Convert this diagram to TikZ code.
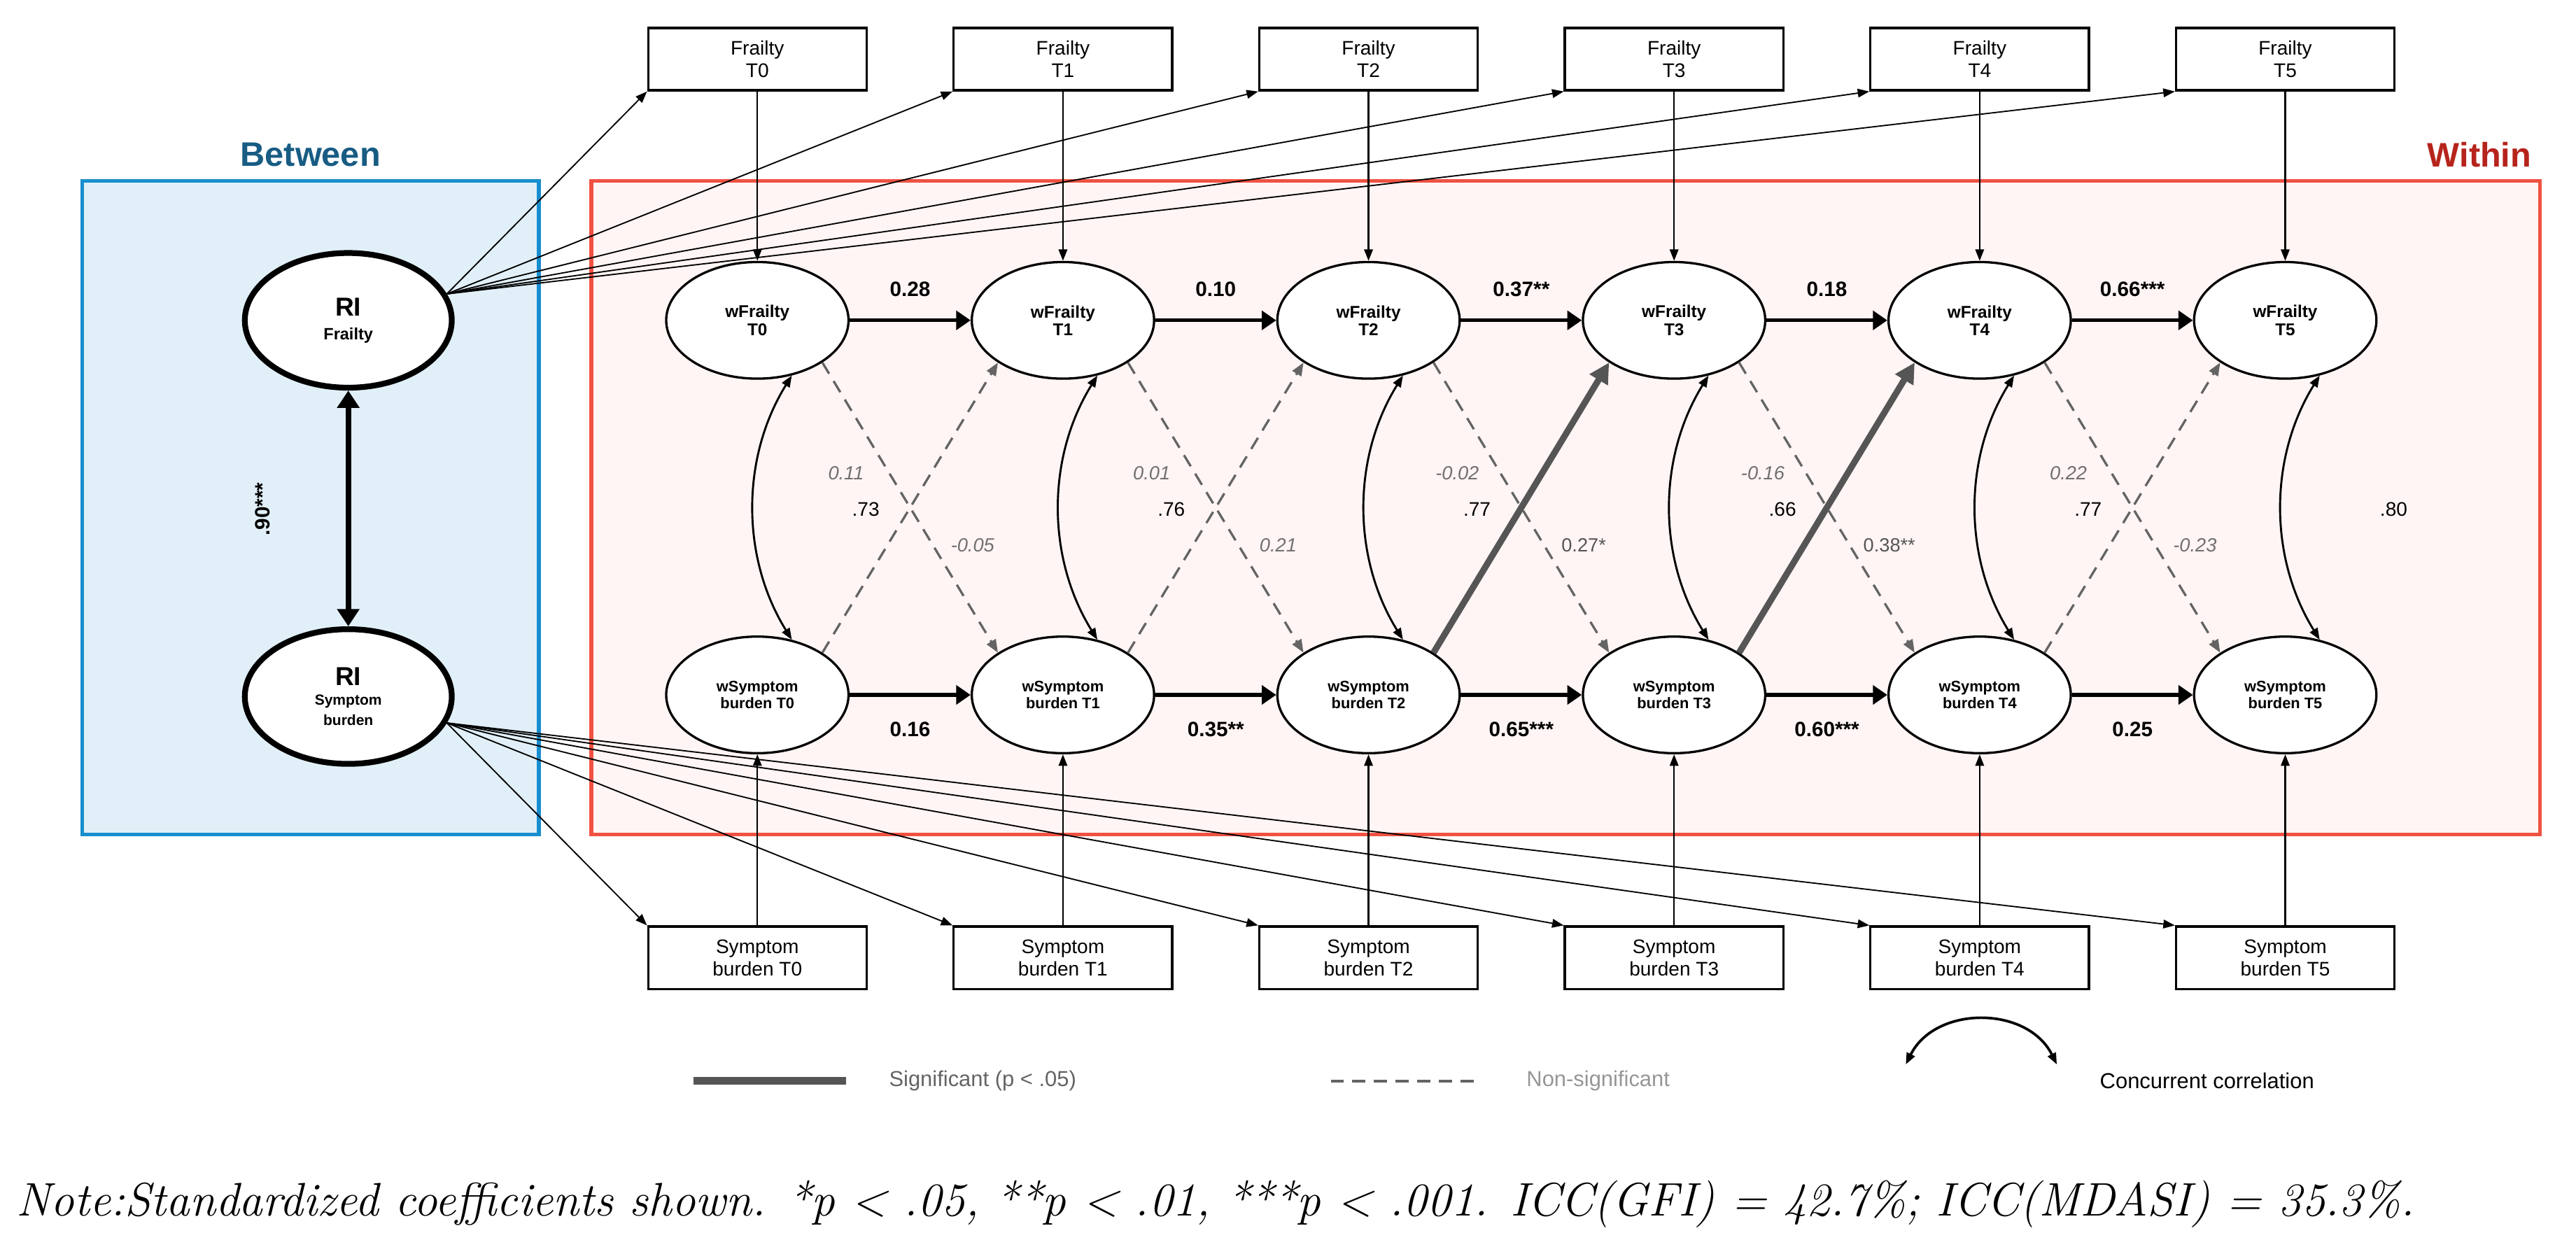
\documentclass[tikz,border=0pt]{standalone}
\usepackage{fontspec}
\newfontfamily\arialsans{Liberation Sans}
\usetikzlibrary{shapes.geometric,arrows.meta}

\definecolor{betweenfill}{RGB}{225,240,248}
\definecolor{betweenline}{RGB}{24,142,206}
\definecolor{betweentext}{RGB}{24,92,132}
\definecolor{withinfill}{RGB}{255,245,244}
\definecolor{withinline}{RGB}{240,82,66}
\definecolor{withintext}{RGB}{182,36,28}
\definecolor{sigline}{RGB}{85,85,85}
\definecolor{nsline}{RGB}{100,100,100}
\definecolor{nstext}{RGB}{112,112,112}
\definecolor{sigtext}{RGB}{100,100,100}
\definecolor{nslegend}{RGB}{150,150,150}

\tikzset{
  obsbox/.style={draw, fill=white, line width=0.8pt, minimum width=2.66cm, minimum height=0.76cm,
    inner sep=0pt, align=center, font=\arialsans\fontsize{6.8}{7.9}\selectfont},
  latent/.style={draw, ellipse, fill=white, line width=0.8pt, minimum width=2.22cm, minimum height=1.42cm,
    inner sep=0pt, align=center, font=\arialsans\bfseries\fontsize{5.9}{6.1}\selectfont},
  rilatent/.style={draw, ellipse, fill=white, line width=2pt, minimum width=2.52cm, minimum height=1.64cm,
    inner sep=0pt, align=center, font=\arialsans\bfseries\fontsize{5.7}{7.2}\selectfont},
  paneltitle/.style={font=\arialsans\bfseries\fontsize{11.8}{14}\selectfont},
  thinarrow/.style={line width=0.6pt, -{Triangle[length=4pt,width=3pt]}},
  fanarrow/.style={line width=0.45pt, -{Triangle[length=4pt,width=3pt]}},
  autoarrow/.style={line width=1.3pt, -{Triangle[length=5pt,width=6.5pt]}},
  sigarrow/.style={line width=2.2pt, sigline, -{Triangle[length=7pt,width=7pt]}},
  nsarrow/.style={line width=0.8pt, nsline, dash pattern=on 4.5pt off 3pt, -{Triangle[length=4.5pt,width=3.5pt]}},
  corrarrow/.style={line width=0.7pt, {Triangle[length=4pt,width=3pt]}-{Triangle[length=4pt,width=3pt]}},
  coef/.style={font=\arialsans\bfseries\fontsize{7.2}{8.5}\selectfont},
  corrlab/.style={font=\arialsans\fontsize{6.8}{8}\selectfont},
  nslab/.style={text=nstext, font=\arialsans\itshape\fontsize{6.6}{8}\selectfont},
  siglab/.style={text=sigline, font=\arialsans\fontsize{6.6}{8}\selectfont},
  legendlab/.style={anchor=west, font=\arialsans\fontsize{7.5}{9}\selectfont}
}

\begin{document}
\begin{tikzpicture}[x=0.02cm, y=-0.02cm]
  \useasboundingbox (0,0) rectangle (1568,763);

  % Between and Within panels
  \draw[betweenline, fill=betweenfill, line width=1.3pt] (50,110) rectangle (328,508);
  \draw[withinline, fill=withinfill, line width=1.3pt] (360,110) rectangle (1546,508);
  \node[paneltitle, text=betweentext] (betweentitle) at (189,94) {Between};
  \node[paneltitle, text=withintext, anchor=east] (withintitle) at (1547,94) {Within};

  % Random intercepts
  \node[rilatent] (rif) at (212,195) {{\fontsize{9}{10}\selectfont RI}\\[1pt]Frailty};
  \node[rilatent] (ris) at (212,424) {{\fontsize{9}{10}\selectfont RI}\\[-0.5pt]{\fontsize{5.1}{7.7}\selectfont Symptom}\\{\fontsize{5.1}{7.7}\selectfont burden}};
  \draw[line width=1.9pt, {Triangle[length=6pt,width=7.5pt]}-{Triangle[length=6pt,width=7.5pt]}] (rif) -- (ris);
  \node[coef, rotate=90] (ricor) at (160,310) {.90***};

  % Observed measures, within-person latents and concurrent correlations
  \foreach \t/\r in {0/.73,1/.76,2/.77,3/.66,4/.77,5/.80} {
    \pgfmathsetmacro\xt{461+186*\t}
    \node[obsbox] (fo\t) at (\xt,36) {Frailty\\T\t};
    \node[obsbox] (so\t) at (\xt,583) {Symptom\\burden T\t};
    \node[latent] (wf\t) at (\xt,195) {wFrailty\\T\t};
    \node[latent, font=\arialsans\bfseries\fontsize{5.3}{5.8}\selectfont] (ws\t) at (\xt,423) {wSymptom\\burden T\t};
    \draw[thinarrow] (fo\t) -- (wf\t);
    \draw[thinarrow] (so\t) -- (ws\t);
    \draw[fanarrow] (rif.15) -- (fo\t.south west);
    \draw[fanarrow] (ris.-15) -- (so\t.north west);
    \draw[corrarrow] (wf\t.-58) .. controls +(-31,50) and +(-31,-50) .. (ws\t.58);
    \node[corrlab] (cor\t) at (\xt+66,310) {\r};
  }

  % Autoregressive and cross-lagged paths
  \foreach \s/\t in {0/1,1/2,2/3,3/4,4/5} {
    \draw[autoarrow] (wf\s) -- (wf\t);
    \draw[autoarrow] (ws\s) -- (ws\t);
    \draw[nsarrow] (wf\s.-33) -- (ws\t.147);
  }
  \foreach \s/\t in {0/1,1/2,4/5} \draw[nsarrow] (ws\s.33) -- (wf\t.-147);
  \foreach \s/\t in {2/3,3/4} \draw[sigarrow] (ws\s.33) -- (wf\t.-147);

  % Path coefficients
  \foreach \s/\lab in {0/0.28,1/0.10,2/0.37**,3/0.18,4/0.66***}
    \node[coef] (arf\s) at (554+186*\s,176) {\lab};
  \foreach \s/\lab in {0/0.16,1/0.35**,2/0.65***,3/0.60***,4/0.25}
    \node[coef] (ars\s) at (554+186*\s,444) {\lab};
  \foreach \s/\lab in {0/0.11,1/0.01,2/-0.02,3/-0.16,4/0.22}
    \node[nslab] (clu\s) at (515+186*\s,288) {\lab};
  \foreach \s/\lab in {0/-0.05,1/0.21,4/-0.23}
    \node[nslab] (cll\s) at (592+186*\s,332) {\lab};
  \node[siglab] (cll2) at (964,332) {0.27*};
  \node[siglab] (cll3) at (1150,332) {0.38**};

  % Legend
  \coordinate (sigA) at (422,658);
  \coordinate (sigB) at (515,658);
  \draw[sigline, line width=2.6pt] (sigA) -- (sigB);
  \node[legendlab, text=sigtext] (siglegend) at (535,658) {Significant (p < .05)};
  \coordinate (nsA) at (810,658);
  \coordinate (nsB) at (902,658);
  \draw[nsline, line width=1pt, dash pattern=on 4.5pt off 3pt] (nsA) -- (nsB);
  \node[legendlab, text=nslegend] (nslegend) at (923,658) {Non-significant};
  \coordinate (corA) at (1160,648);
  \coordinate (corB) at (1252,648);
  \draw[corrarrow, line width=0.9pt] (corA) .. controls (1178,612) and (1234,612) .. (corB);
  \node[legendlab] (corlegend) at (1272,658) {Concurrent correlation};

  % Note
  \node[anchor=west, font=\itshape\fontsize{16.3}{19}\selectfont] (note) at (4,733)
    {Note:Standardized coefficients shown. *p < .05, **p < .01, ***p < .001. ICC(GFI) = 42.7\%; ICC(MDASI) = 35.3\%.};
\end{tikzpicture}
\end{document}
